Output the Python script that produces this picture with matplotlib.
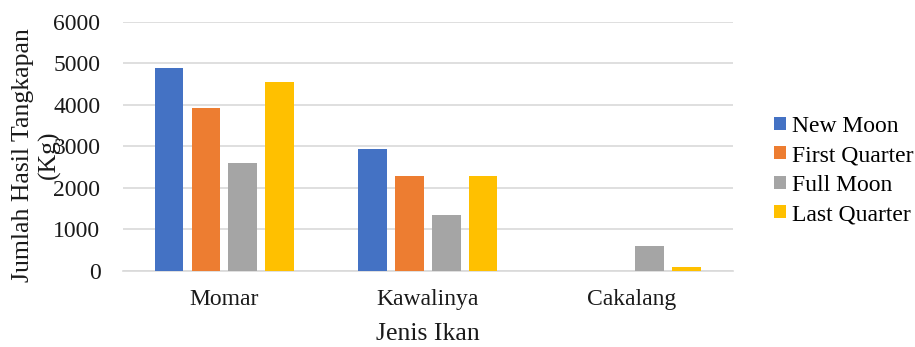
import numpy as np
import matplotlib.pyplot as plt

plt.rcParams['font.family'] = ['Liberation Serif', 'DejaVu Serif']

# data
categories = ["Momar", "Kawalinya", "Cakalang"]
series = ["New Moon", "First Quarter", "Full Moon", "Last Quarter"]
new_moon = [4900, 2940, 0]
first_quarter = [3920, 2290, 0]
full_moon = [2610, 1340, 600]
last_quarter = [4550, 2290, 90]
colors = ["#4472C4", "#ED7D31", "#A5A5A5", "#FFC000"]

values = [new_moon, first_quarter, full_moon, last_quarter]

fig = plt.figure(figsize=(9.15, 3.47), dpi=100)
ax = fig.add_axes([0.134, 0.219, 0.667, 0.718])

x = np.arange(len(categories))
step = 0.181
width = 0.141
for i, (name, vals) in enumerate(zip(series, values)):
    ax.bar(x + (i - 1.5) * step, vals, width, color=colors[i], label=name, zorder=3)

ax.set_xlim(-0.5, 2.5)
ax.set_ylim(0, 6000)
ax.set_yticks(range(0, 6001, 1000))
ax.set_xticks(x)
ax.set_xticklabels(categories)
ax.tick_params(axis='both', length=0, labelsize=17, colors='#1a1a1a')
ax.tick_params(axis='y', pad=16)
ax.tick_params(axis='x', pad=13)
ax.grid(axis='y', color='#d9d9d9', linewidth=1.2, zorder=0)
for s in ['top', 'right', 'left']:
    ax.spines[s].set_visible(False)
ax.spines['bottom'].set_color('#d9d9d9')
ax.spines['bottom'].set_linewidth(1.2)

ax.set_xlabel("Jenis Ikan", fontsize=18.5, labelpad=9, color='#1a1a1a')
fig.text(0.0395, 0.553, "Jumlah Hasil Tangkapan\n(Kg)", rotation=90, fontsize=18.5,
         ha='center', va='center', multialignment='center', linespacing=1.22,
         color='#1a1a1a')

ax.legend(loc='center left', bbox_to_anchor=(0.846, 0.509), bbox_transform=fig.transFigure,
          frameon=False, fontsize=17, handlelength=0.5, handleheight=0.5,
          handletextpad=0.25, labelspacing=0.36, borderpad=0, borderaxespad=0)

fig.savefig("out.png", dpi=100)
